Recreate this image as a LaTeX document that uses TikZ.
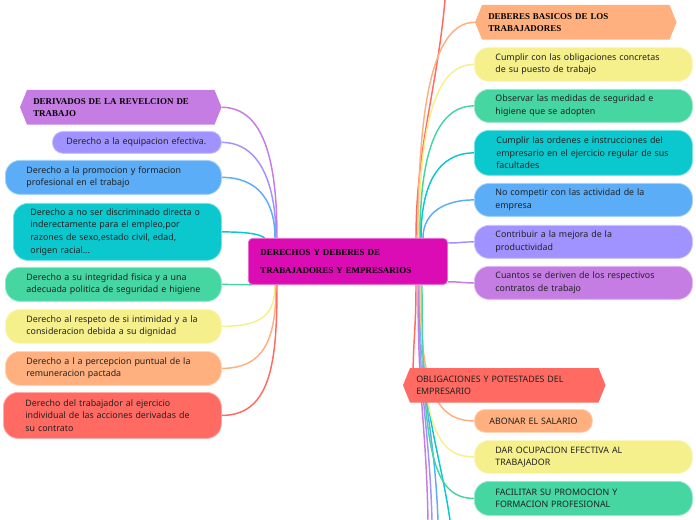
\documentclass[tikz,border=0pt]{standalone}
\usepackage{fontspec}
\setmainfont{Noto Sans}
\newfontfamily\hdrfont{Liberation Serif}
\usetikzlibrary{calc}
\pgfdeclarelayer{bg}
\pgfdeclarelayer{mid}
\pgfsetlayers{bg,mid,main}
\definecolor{cpurple}{HTML}{C57DE4}
\definecolor{clav}{HTML}{A092FF}
\definecolor{cblue}{HTML}{5AADF6}
\definecolor{cteal}{HTML}{0BC8CE}
\definecolor{cgreen}{HTML}{45D6A2}
\definecolor{cyellow}{HTML}{F5F08C}
\definecolor{corange}{HTML}{FFB07E}
\definecolor{cred}{HTML}{FF6A62}
\definecolor{cmag}{HTML}{DB0CB3}
\definecolor{ctext}{HTML}{222222}
\newcommand\nb[1]{\mbox{#1}}
\tikzset{
  box/.style={anchor=north west, inner ysep=0pt, align=left, text=ctext,
    font=\fontsize{6.65}{9.4}\selectfont},
  pill/.style={box, rounded corners=11pt, draw=#1!55!white, line width=0.6pt, fill=#1},
  hexbox/.style={box, inner xsep=9.75pt, text width=131.25pt, minimum width=150.75pt, minimum height=25.5pt},
  hdr/.style={font=\hdrfont\bfseries\fontsize{6.7}{9}\selectfont, text=black},
  conn/.style={line width=1.1pt},
}
\begin{document}
\begin{tikzpicture}[x=0.75pt,y=-0.75pt]
\useasboundingbox (0,0) rectangle (696,520);
% central
\node[box, fill=cmag, rounded corners=3pt, draw=cmag!60!white, line width=0.6pt, inner xsep=9pt, text width=131.25pt,
  minimum width=149.25pt, minimum height=34.5pt,
  font=\hdrfont\bfseries\fontsize{6.7}{13.5}\selectfont, text=black] (c) at (248,238)
  {\nb{DERECHOS Y DEBERES DE}\\\nb{TRABAJADORES Y EMPRESARIOS}};
% left side
\node[hexbox, hdr] (l1) at (20,90) {\nb{DERIVADOS DE LA REVELCION DE}\\TRABAJO};
\node[pill=clav, rounded corners=8pt, inner xsep=10.5pt, text width=105.75pt, minimum width=126.75pt, minimum height=16.5pt] (l2) at (52,131)
  {\nb{Derecho a la equipacion efectiva.}};
\node[pill=cblue, inner xsep=15.75pt, text width=130.5pt, minimum width=162pt, minimum height=25.5pt] (l3) at (5,160)
  {\nb{Derecho a la promocion y formacion}\\\nb{profesional en el trabajo}};
\node[pill=cteal, inner xsep=12.75pt, text width=130.5pt, minimum width=156pt, minimum height=42.75pt] (l4) at (13,203)
  {\nb{Derecho a no ser discriminado directa o}\\\nb{inderectamente para el empleo,por}\\\nb{razones de sexo,estado civil, edad,}\\\nb{origen racial...}};
\node[pill=cgreen, inner xsep=15.75pt, text width=130.5pt, minimum width=162pt, minimum height=25.5pt] (l5) at (5,267)
  {\nb{Derecho a su integridad fisica y a una}\\\nb{adecuada politica de seguridad e higiene}};
\node[pill=cyellow, inner xsep=15.75pt, text width=130.5pt, minimum width=162pt, minimum height=25.5pt] (l6) at (5,309)
  {\nb{Derecho al respeto de si intimidad y a la}\\\nb{consideracion debida a su dignidad}};
\node[pill=corange, inner xsep=15.75pt, text width=130.5pt, minimum width=162pt, minimum height=25.5pt] (l7) at (5,351)
  {\nb{Derecho a l a percepcion puntual de la}\\\nb{remuneracion pactada}};
\node[pill=cred, inner xsep=16.5pt, text width=130.5pt, minimum width=163.5pt, minimum height=34.5pt] (l8) at (3,392)
  {\nb{Derecho del trabajador al ejercicio}\\\nb{individual de las acciones derivadas de}\\\nb{su contrato}};
% right side
\node[hexbox, hdr] (r0) at (475,5) {\nb{DEBERES BASICOS DE LOS}\\TRABAJADORES};
\node[pill=cyellow, inner xsep=15.75pt, text width=132pt, minimum width=163.5pt, minimum height=25.5pt] (r1) at (474,47)
  {\nb{Cumplir con las obligaciones concretas}\\\nb{de su puesto de trabajo}};
\node[pill=cgreen, inner xsep=15.75pt, text width=132pt, minimum width=163.5pt, minimum height=24.75pt] (r2) at (474,89)
  {\nb{Observar las medidas de seguridad e}\\\nb{higiene que se adopten}};
\node[pill=cteal, inner xsep=16.5pt, text width=130.5pt, minimum width=163.5pt, minimum height=33.75pt] (r3) at (474,130)
  {\nb{Cumplir las ordenes e instrucciones del}\\\nb{empresario en el ejercicio regular de sus}\\\nb{facultades}};
\node[pill=cblue, inner xsep=15.75pt, text width=132pt, minimum width=163.5pt, minimum height=24.75pt] (r4) at (474,183)
  {\nb{No competir con las actividad de la}\\\nb{empresa}};
\node[pill=clav, inner xsep=15.75pt, text width=132pt, minimum width=163.5pt, minimum height=24.75pt] (r5) at (474,225)
  {\nb{Contribuir a la mejora de la}\\\nb{productividad}};
\node[pill=cpurple, inner xsep=15.75pt, text width=132pt, minimum width=163.5pt, minimum height=24.75pt] (r6) at (474,266)
  {\nb{Cuantos se deriven de los respectivos}\\\nb{contratos de trabajo}};
% obligaciones
\node[hexbox, inner xsep=9.75pt, text width=132pt, minimum width=151.5pt] (o) at (403,368)
  {\nb{OBLIGACIONES Y POTESTADES DEL}\\\nb{EMPRESARIO}};
\node[pill=corange, rounded corners=8pt, inner xsep=11.25pt, text width=66pt, minimum width=88.5pt, minimum height=17.25pt] (o1) at (474,409)
  {\nb{ABONAR EL SALARIO}};
\node[pill=cyellow, inner xsep=15.75pt, text width=132pt, minimum width=163.5pt, minimum height=24.75pt] (o2) at (474,440)
  {\nb{DAR OCUPACION EFECTIVA AL}\\\nb{TRABAJADOR}};
\node[pill=cgreen, inner xsep=15.75pt, text width=132pt, minimum width=163.5pt, minimum height=25.5pt] (o3) at (474,481)
  {\nb{FACILITAR SU PROMOCION Y}\\\nb{FORMACION PROFESIONAL}};
% free ends
\coordinate (top1) at (445,0);
\coordinate (bot1) at (428,520);
\coordinate (bot2) at (432,520);
\coordinate (bot3) at (438,520);
\coordinate (bot4) at (450,520);
% hexagon fills
\begin{pgfonlayer}{mid}
\foreach \n/\col in {l1/cpurple, r0/corange, o/cred}{
  \fill[\col] (\n.west) -- ($(\n.north west)+(7,0)$) -- ($(\n.north east)+(-7,0)$) -- (\n.east)
    -- ($(\n.south east)+(-7,0)$) -- ($(\n.south west)+(7,0)$) -- cycle;
}
\end{pgfonlayer}
% connectors
\begin{pgfonlayer}{bg}
\draw[conn, cpurple] (l1.east) .. controls +(45,0) and +(0,-70) .. ($(c.north west)+(29,0)$);
\draw[conn, clav] (l2.east) .. controls +(40,0) and +(0,-50) .. ($(c.north west)+(28,0)$);
\draw[conn, cblue] (l3.east) .. controls +(38,0) and +(0,-35) .. ($(c.north west)+(27,0)$);
\draw[conn, cteal] (l4.east) .. controls +(30,0) and +(0,-6) .. ($(c.north west)+(18,3)$);
\draw[conn, cgreen] (l5.east) -- ($(c.south west)+(4,0)$);
\draw[conn, cyellow] (l6.east) .. controls +(40,0) and +(0,30) .. ($(c.south west)+(27,0)$);
\draw[conn, corange] (l7.east) .. controls +(45,0) and +(0,50) .. ($(c.south west)+(28,0)$);
\draw[conn, cred] (l8.east) .. controls +(50,0) and +(0,75) .. ($(c.south west)+(29,0)$);
% right top
\draw[conn, cred] ($(c.north west)+(168,0)$) .. controls +(0,-90) and +(-8,90) .. (top1);
\draw[conn, corange] ($(c.north west)+(170,0)$) .. controls +(0,-160) and +(-35,0) .. (r0.west);
\draw[conn, cyellow] ($(c.north west)+(171,0)$) .. controls +(0,-125) and +(-35,0) .. (r1.west);
\draw[conn, cgreen] ($(c.north west)+(172,0)$) .. controls +(0,-90) and +(-35,0) .. (r2.west);
\draw[conn, cteal] ($(c.north west)+(173,0)$) .. controls +(0,-55) and +(-35,0) .. (r3.west);
\draw[conn, cblue] ($(c.north west)+(175,0)$) .. controls +(0,-25) and +(-30,0) .. (r4.west);
\draw[conn, clav] ($(c.north east)+(0,5)$) .. controls +(14,0) and +(-14,0) .. (r5.west);
\draw[conn, cpurple] ($(c.south east)+(0,-3)$) .. controls +(14,0) and +(-14,0) .. (r6.west);
% bottom
\draw[conn, cred] ($(c.south west)+(168,0)$) .. controls +(0,40) and +(1,-40) .. ($(o.north west)+(10,3)$);
\draw[conn, cpurple] ($(c.south west)+(170,0)$) .. controls +(0,120) and +(-2,-100) .. (bot1);
\draw[conn, clav] ($(c.south west)+(171,0)$) .. controls +(0,120) and +(-3,-100) .. (bot2);
\draw[conn, cblue] ($(c.south west)+(172,0)$) .. controls +(0,120) and +(-4,-100) .. (bot3);
\draw[conn, cteal] ($(c.south west)+(173,0)$) .. controls +(0,130) and +(-12,-80) .. (bot4);
\draw[conn, corange] ($(c.south west)+(172,0)$) .. controls +(0,110) and +(-35,0) .. (o1.west);
\draw[conn, cyellow] ($(c.south west)+(173,0)$) .. controls +(0,140) and +(-38,0) .. (o2.west);
\draw[conn, cgreen] ($(c.south west)+(174,0)$) .. controls +(0,170) and +(-40,0) .. (o3.west);
\end{pgfonlayer}
\end{tikzpicture}
\end{document}
